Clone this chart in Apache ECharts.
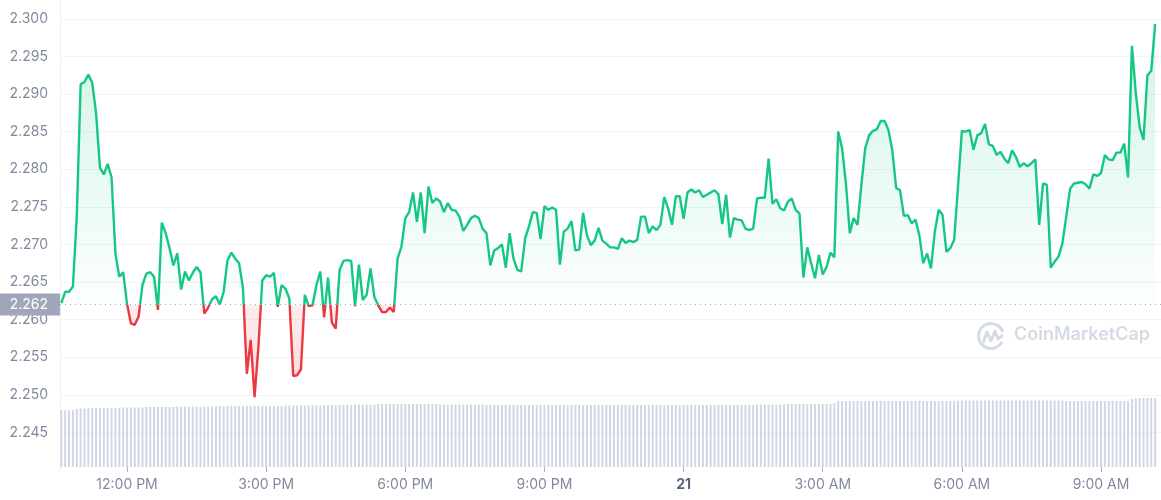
<!DOCTYPE html>
<html><head><meta charset="utf-8">
<script src="https://cdn.jsdelivr.net/npm/echarts@6/dist/echarts.min.js"></script>
<style>html,body{margin:0;padding:0;background:#fff}#c{width:1161px;height:500px}</style>
</head><body><div id="c"></div>
<script>
// reference price (dotted line)
const baseline = 2.262;
// sample times: minutes after 10:00 AM on the 20th, one sample every 5 minutes
const startMinute = 35;
const stepMinutes = 5;
const prices = [
2.2622,2.2637,2.2637,2.2644,2.2737,2.2913,2.2916,2.2926,2.2915,2.2874,
2.2802,2.2793,2.2807,2.2789,2.2688,2.2657,2.2663,2.2621,2.2595,2.2593,
2.2604,2.2646,2.2661,2.2663,2.2657,2.2613,2.2729,2.2715,2.2695,2.2672,
2.2688,2.2640,2.2664,2.2652,2.2662,2.2670,2.2663,2.2608,2.2616,2.2627,
2.2631,2.2620,2.2637,2.2679,2.2689,2.2681,2.2675,2.2642,2.2528,2.2573,
2.2497,2.2564,2.2652,2.2659,2.2657,2.2662,2.2617,2.2646,2.2641,2.2628,
2.2525,2.2526,2.2534,2.2633,2.2618,2.2619,2.2646,2.2664,2.2603,2.2656,
2.2596,2.2588,2.2666,2.2678,2.2679,2.2678,2.2618,2.2673,2.2626,2.2633,
2.2668,2.2630,2.2619,2.2610,2.2610,2.2616,2.2610,2.2681,2.2697,2.2735,
2.2743,2.2769,2.2730,2.2769,2.2715,2.2777,2.2755,2.2761,2.2757,2.2743,
2.2755,2.2746,2.2745,2.2737,2.2718,2.2726,2.2735,2.2738,2.2735,2.2721,
2.2715,2.2672,2.2692,2.2695,2.2700,2.2669,2.2715,2.2681,2.2666,2.2664,
2.2708,2.2724,2.2743,2.2742,2.2707,2.2751,2.2746,2.2749,2.2746,2.2673,
2.2717,2.2721,2.2731,2.2692,2.2693,2.2742,2.2712,2.2699,2.2705,2.2722,
2.2705,2.2701,2.2696,2.2696,2.2694,2.2708,2.2702,2.2705,2.2703,2.2706,
2.2737,2.2737,2.2715,2.2724,2.2719,2.2726,2.2763,2.2748,2.2726,2.2764,
2.2764,2.2734,2.2769,2.2773,2.2769,2.2772,2.2763,2.2766,2.2769,2.2772,
2.2767,2.2727,2.2766,2.2709,2.2735,2.2733,2.2732,2.2721,2.2719,2.2721,
2.2761,2.2762,2.2762,2.2814,2.2754,2.2760,2.2748,2.2745,2.2757,2.2761,
2.2746,2.2741,2.2656,2.2696,2.2675,2.2655,2.2686,2.2660,2.2670,2.2689,
2.2683,2.2850,2.2828,2.2781,2.2715,2.2735,2.2726,2.2779,2.2828,2.2845,
2.2851,2.2853,2.2864,2.2864,2.2852,2.2825,2.2775,2.2772,2.2738,2.2739,
2.2728,2.2733,2.2712,2.2675,2.2688,2.2668,2.2717,2.2746,2.2739,2.2690,
2.2695,2.2706,2.2777,2.2851,2.2850,2.2852,2.2826,2.2845,2.2848,2.2860,
2.2833,2.2831,2.2819,2.2823,2.2814,2.2808,2.2825,2.2816,2.2803,2.2808,
2.2804,2.2808,2.2813,2.2726,2.2781,2.2779,2.2669,2.2677,2.2684,2.2701,
2.2737,2.2774,2.2781,2.2782,2.2783,2.2780,2.2774,2.2793,2.2791,2.2795,
2.2819,2.2813,2.2812,2.2822,2.2822,2.2834,2.2789,2.2964,2.2901,2.2856,
2.2839,2.2925,2.2931,2.2993
];
// volume bars (relative units)
const volumes = [
57,57,57,57,58,58.5,58.5,58.5,59,59,
59,59,59,59,59,59,59.5,59.5,59.5,59.5,
59.5,59.5,60,60,60,60,60,60,60,60,
60.5,60.5,60.5,60.5,60.5,60.5,60.5,60.5,60.5,60.5,
61,61,61,61,61,61,61,61,61,61,
61,61,61,61,61,61,61,61,61.5,61.5,
61.5,61.5,61.5,61.5,61.5,61.5,61.5,61.5,62,62,
62,62,62,62,62,62,62.5,62.5,62.5,62.5,
62.5,62.5,63,63,63,63,63,63,63,63,
63,63,63,63,63,63,63,63,62.5,62.5,
62.5,62.5,62.5,62.5,62.5,62.5,62.5,62.5,62.5,62.5,
62,62,62,62,62,62,62,62,62,62,
62,62,62,62,62,62,62,62,62,62,
62,62,62,62,62,62,62,62,62,62,
62,62,62,62,62,62,62,62,62,62,
62,62,62,62,62,62,62,62,62,62,
62,62,62,62,62,62,62,62,62,62,
62,62,62,62,62,62,62,62,62,62,
62.5,62.5,62.5,62.5,62.5,62.5,62.5,62.5,63,63,
63,63,63,63,63,63,63,63,63,63,
64,66,66,66,66,66,66,66,66,66,
66,66,66,66,66,66,66,66,66,66,
66,66,66,66,66,66,66,66,66,66,
66,66,66.5,66.5,66.5,66.5,66.5,66.5,66.5,66.5,
66.5,66.5,66.5,66.5,66.5,66.5,66.5,66.5,66.5,66.5,
66.5,66.5,66.5,66.5,66.5,66.5,66.5,66.5,66.5,66.5,
66,66,66,66,66,66,66,66,66,66,
66,66,66,66,66,66,66,68,68.5,69,
69,69,69,69
];
const yTickMin = 2.240, yTickMax = 2.3025, yTickStep = 0.005;
const tickMinutes = [120, 300, 480, 660, 840, 1020, 1200, 1380];
const tickLabels = ['12:00 PM', '3:00 PM', '6:00 PM', '9:00 PM', '21', '3:00 AM', '6:00 AM', '9:00 AM'];
const xMin = 33.3, xMax = 1457.6;

const minuteOf = i => startMinute + i * stepMinutes;
const priceData = prices.map((p, i) => [minuteOf(i), p]);
const volumeData = volumes.map((v, i) => [minuteOf(i), v]);
const pMax = Math.max(...prices), pMin = Math.min(...prices);

const font = 'Inter, "Noto Sans", sans-serif';
const chart = echarts.init(document.getElementById('c'), null, { renderer: 'canvas' });
chart.setOption({
  animation: false,
  backgroundColor: '#fff',
  grid: [
    { left: 60, right: 0, top: 0, bottom: 30 },
    { left: 60, right: 0, top: 367, bottom: 33 }
  ],
  xAxis: [
    { type: 'value', gridIndex: 0, min: xMin, max: xMax, show: false },
    { type: 'value', gridIndex: 1, min: xMin, max: xMax,
      axisLine: { show: false },
      splitLine: { show: false },
      axisTick: { show: true, length: 5, customValues: tickMinutes, lineStyle: { color: '#a6b0c3' } },
      axisLabel: {
        customValues: tickMinutes, margin: 11, fontSize: 14, color: '#808a9d', fontFamily: font,
        formatter: v => { const k = tickMinutes.indexOf(v); const t = tickLabels[k]; return k === 4 ? '{b|' + t + '}' : t; },
        rich: { b: { fontWeight: 'bold', fontSize: 14, color: '#58667e', fontFamily: font } }
      } }
  ],
  yAxis: [
    { type: 'value', gridIndex: 0, min: yTickMin, max: yTickMax, interval: yTickStep,
      axisLine: { show: true, lineStyle: { color: '#eff2f5' } },
      axisTick: { show: false },
      axisLabel: { showMinLabel: false, showMaxLabel: false, color: '#808a9d', fontSize: 14, margin: 12, fontFamily: font,
        formatter: v => v.toFixed(3) },
      splitLine: { show: true, showMinLine: false, showMaxLine: false, lineStyle: { color: '#f3f4f6' } } },
    { type: 'value', gridIndex: 1, min: 0, max: 100, show: false }
  ],
  visualMap: {
    show: false, type: 'piecewise', seriesIndex: 0, dimension: 1,
    pieces: [ { gt: 1.0, lte: baseline, color: '#ea3943' }, { gt: baseline, lte: 4.0, color: '#16c784' } ]
  },
  series: [
    { type: 'line', xAxisIndex: 0, yAxisIndex: 0, data: priceData, showSymbol: false, symbol: 'none',
      lineStyle: { width: 2.4 }, z: 3,
      areaStyle: { origin: baseline, color: 'rgba(22,199,132,0.1)' },
      markLine: {
        silent: true, symbol: 'none', precision: 3,
        lineStyle: { color: '#a6b0c3', width: 1, type: [1, 4] },
        label: { show: true, position: 'start', distance: 0, formatter: baseline.toFixed(3),
          color: '#fff', fontSize: 14, fontFamily: font, backgroundColor: '#a1a7bb', padding: [4, 12, 4, 12] },
        data: [ { yAxis: baseline } ]
      }
    },
    { type: 'bar', xAxisIndex: 1, yAxisIndex: 1, data: volumeData, barWidth: 2,
      itemStyle: { color: '#cfd6e4' }, z: 1, silent: true }
  ],
  graphic: [
    { type: 'group', left: 976, top: 321, silent: true, z: 0, children: [
      { type: 'arc', shape: { cx: 14, cy: 14, r: 12.5, startAngle: 0.15 * Math.PI, endAngle: 1.9 * Math.PI }, style: { stroke: '#d5dbe5', lineWidth: 3, fill: 'none' } },
      { type: 'polyline', shape: { points: [[6, 21], [10, 10], [14, 19], [18, 9], [21, 17], [26, 13]] }, style: { stroke: '#d5dbe5', lineWidth: 3, fill: 'none', lineJoin: 'round' } }
    ] },
    { type: 'text', right: 11, top: 326, silent: true, z: 0,
      style: { text: 'CoinMarketCap', fill: '#d5dbe5', font: '600 18px ' + font } }
  ]
});

// global-coordinate gradient: green fading to the baseline, red below it
const yTop = chart.convertToPixel({ yAxisIndex: 0 }, pMax);
const yBase = chart.convertToPixel({ yAxisIndex: 0 }, baseline);
const yBot = chart.convertToPixel({ yAxisIndex: 0 }, pMin);
const fb = (yBase - yTop) / (yBot - yTop);
chart.setOption({
  series: [{
    areaStyle: {
      origin: baseline,
      color: new echarts.graphic.LinearGradient(0, yTop, 0, yBot, [
        { offset: 0, color: 'rgba(22,199,132,0.28)' },
        { offset: fb, color: 'rgba(22,199,132,0.02)' },
        { offset: fb, color: 'rgba(234,57,67,0.13)' },
        { offset: 1, color: 'rgba(234,57,67,0.27)' }
      ], true)
    }
  }]
});
</script></body></html>
